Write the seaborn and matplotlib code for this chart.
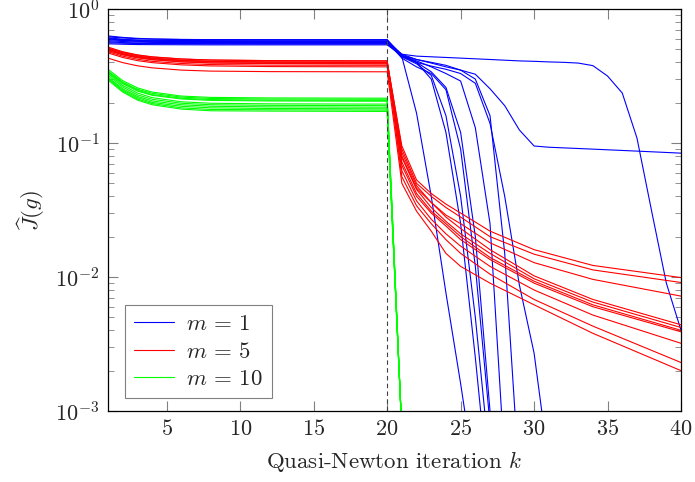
import numpy as np
import pandas as pd
import seaborn as sns
import matplotlib
matplotlib.use("Agg")
from matplotlib import pyplot as plt
from matplotlib.lines import Line2D
from matplotlib.ticker import LogLocator, NullFormatter

# iterations 1..20: setup phase (same knots for every run)
setup_x = [1, 2, 3, 4, 6, 8, 12, 20]

blue_setup = [
    [0.600, 0.592, 0.587, 0.584, 0.582, 0.581, 0.580, 0.580],
    [0.620, 0.608, 0.600, 0.596, 0.592, 0.591, 0.590, 0.590],
    [0.580, 0.572, 0.567, 0.564, 0.562, 0.561, 0.560, 0.560],
    [0.610, 0.594, 0.584, 0.578, 0.573, 0.571, 0.570, 0.570],
    [0.560, 0.556, 0.553, 0.552, 0.551, 0.550, 0.550, 0.550],
    [0.590, 0.582, 0.577, 0.574, 0.572, 0.571, 0.570, 0.570],
    [0.630, 0.614, 0.604, 0.598, 0.593, 0.591, 0.590, 0.590],
    [0.550, 0.546, 0.543, 0.542, 0.541, 0.540, 0.540, 0.540],
    [0.570, 0.562, 0.557, 0.554, 0.552, 0.551, 0.550, 0.550],
    [0.600, 0.584, 0.574, 0.568, 0.563, 0.561, 0.560, 0.560],
]
# blue runs after iteration 20, one value per iteration starting at 21
blue_tail = [
    [0.46, 0.445, 0.44, 0.435, 0.43, 0.425, 0.42, 0.415, 0.41, 0.407, 0.403,
     0.40, 0.395, 0.378, 0.316, 0.236, 0.109, 0.031, 0.009, 0.004],
    [0.45, 0.42, 0.395, 0.37, 0.35, 0.326, 0.254, 0.19, 0.125, 0.095, 0.093,
     0.092, 0.091, 0.090, 0.089, 0.088, 0.087, 0.086, 0.085, 0.084],
    [0.44, 0.167, 0.040, 0.0076, 0.0016, 0.0003],
    [0.45, 0.40, 0.30, 0.12, 0.025, 0.0025, 0.0002],
    [0.44, 0.39, 0.32, 0.16, 0.04, 0.005, 0.0004],
    [0.43, 0.37, 0.33, 0.25, 0.09, 0.012, 0.0008],
    [0.44, 0.40, 0.375, 0.355, 0.33, 0.279, 0.140, 0.040, 0.0087, 0.0027, 0.0004],
    [0.45, 0.41, 0.37, 0.33, 0.29, 0.13, 0.025, 0.0004],
    [0.46, 0.42, 0.40, 0.38, 0.35, 0.30, 0.16, 0.015, 0.0003],
    [0.45, 0.40, 0.34, 0.26, 0.12, 0.02, 0.001, 0.0001],
]

red_setup = [
    [0.50, 0.465, 0.442, 0.428, 0.413, 0.406, 0.402, 0.400],
    [0.52, 0.480, 0.455, 0.440, 0.424, 0.416, 0.412, 0.410],
    [0.48, 0.445, 0.422, 0.407, 0.392, 0.385, 0.381, 0.380],
    [0.51, 0.472, 0.447, 0.431, 0.414, 0.406, 0.402, 0.400],
    [0.49, 0.458, 0.438, 0.425, 0.412, 0.405, 0.401, 0.400],
    [0.50, 0.461, 0.436, 0.420, 0.404, 0.396, 0.392, 0.390],
    [0.51, 0.475, 0.452, 0.438, 0.423, 0.416, 0.412, 0.410],
    [0.47, 0.435, 0.412, 0.398, 0.383, 0.376, 0.372, 0.370],
    [0.49, 0.455, 0.432, 0.418, 0.403, 0.396, 0.392, 0.390],
    [0.43, 0.398, 0.377, 0.364, 0.350, 0.344, 0.341, 0.340],
]
red_tail_x = [21, 22, 23, 24, 25, 27, 30, 34, 40]
red_tail = [
    [0.095, 0.053, 0.042, 0.035, 0.030, 0.022, 0.0160, 0.0122, 0.0099],
    [0.090, 0.050, 0.040, 0.033, 0.028, 0.020, 0.0148, 0.0113, 0.0091],
    [0.080, 0.046, 0.036, 0.029, 0.025, 0.018, 0.0128, 0.0096, 0.0072],
    [0.085, 0.048, 0.036, 0.028, 0.023, 0.016, 0.0102, 0.0068, 0.0044],
    [0.078, 0.045, 0.033, 0.026, 0.021, 0.015, 0.0097, 0.0065, 0.0042],
    [0.072, 0.042, 0.031, 0.025, 0.020, 0.014, 0.0093, 0.0062, 0.0040],
    [0.068, 0.040, 0.030, 0.024, 0.019, 0.0135, 0.0090, 0.0060, 0.0039],
    [0.062, 0.037, 0.027, 0.021, 0.017, 0.0120, 0.0080, 0.0052, 0.0032],
    [0.056, 0.034, 0.025, 0.019, 0.015, 0.0105, 0.0068, 0.0043, 0.0023],
    [0.050, 0.031, 0.022, 0.015, 0.012, 0.0090, 0.0062, 0.0038, 0.0020],
]

green_setup = [
    [0.355, 0.292, 0.258, 0.240, 0.224, 0.219, 0.217, 0.216],
    [0.345, 0.285, 0.252, 0.235, 0.220, 0.215, 0.213, 0.212],
    [0.340, 0.281, 0.248, 0.230, 0.216, 0.211, 0.209, 0.208],
    [0.335, 0.277, 0.244, 0.227, 0.213, 0.208, 0.206, 0.205],
    [0.330, 0.269, 0.236, 0.218, 0.203, 0.198, 0.196, 0.195],
    [0.320, 0.262, 0.229, 0.212, 0.198, 0.193, 0.191, 0.190],
    [0.310, 0.254, 0.223, 0.206, 0.193, 0.188, 0.186, 0.185],
    [0.305, 0.249, 0.218, 0.201, 0.188, 0.183, 0.181, 0.180],
    [0.300, 0.244, 0.213, 0.197, 0.183, 0.178, 0.177, 0.176],
    [0.295, 0.240, 0.209, 0.193, 0.179, 0.174, 0.173, 0.172],
]
green_tail_x = [21]
green_tail = [[0.0007], [0.0007], [0.0007], [0.0007], [0.0007],
              [0.0007], [0.0007], [0.0007], [0.0007], [0.0007]]

labels = [r"$m\,=\,1$", r"$m\,=\,5$", r"$m\,=\,10$"]
colors = ["#0000ff", "#ff0000", "#00ff00"]

rows = []
for lab, setups, tails, tx in [
    (labels[0], blue_setup, blue_tail, None),
    (labels[1], red_setup, red_tail, red_tail_x),
    (labels[2], green_setup, green_tail, green_tail_x),
]:
    for i, (s, t) in enumerate(zip(setups, tails)):
        xs = tx if tx is not None else list(range(21, 21 + len(t)))
        for xv, yv in zip(setup_x + list(xs), s + list(t)):
            rows.append({"k": xv, "J": yv, "m": lab, "run": f"{lab}-{i}"})
df = pd.DataFrame(rows)

sns.set_style("ticks")
plt.rcParams["font.family"] = "serif"
plt.rcParams["font.serif"] = ["cmr10", "DejaVu Serif"]
plt.rcParams["mathtext.fontset"] = "cm"
plt.rcParams["axes.unicode_minus"] = False
plt.rcParams["axes.formatter.use_mathtext"] = True

fig = plt.figure(figsize=(6.95, 4.82), dpi=100)
ax = fig.add_axes([0.1554, 0.1473, 0.8245, 0.834])

sns.lineplot(data=df, x="k", y="J", hue="m", units="run", estimator=None,
             hue_order=labels, palette=dict(zip(labels, colors)),
             linewidth=0.8, legend=False, ax=ax)

ax.axvline(20, color="0.25", linewidth=0.8, dashes=(4, 3), zorder=5)

ax.set_yscale("log")
ax.set_xlim(1, 40)
ax.set_ylim(1e-3, 1)
ax.set_xticks([5, 10, 15, 20, 25, 30, 35, 40])
ax.yaxis.set_minor_locator(LogLocator(base=10, subs=np.arange(2, 10)))
ax.yaxis.set_minor_formatter(NullFormatter())

ax.tick_params(which="both", direction="in", top=True, right=True,
               color="0.5", labelsize=16, pad=6)
ax.tick_params(which="major", length=7, width=0.8)
ax.tick_params(which="minor", length=4, width=0.6)
for sp in ax.spines.values():
    sp.set_linewidth(0.9)
    sp.set_color("black")

ax.set_xlabel("Quasi-Newton iteration $k$", fontsize=16.5, labelpad=7)
ax.set_ylabel(r"$\widehat{J}(g)$", fontsize=16.5, labelpad=6)

handles = [Line2D([], [], color=c, linewidth=0.8) for c in colors]
leg = ax.legend(handles, labels, loc="lower left",
                bbox_to_anchor=(0.03, 0.032), fontsize=16.5,
                fancybox=False, framealpha=1, edgecolor="0.5",
                handlelength=1.75, borderpad=0.4, labelspacing=0.32,
                handletextpad=0.5, borderaxespad=0)
leg.get_frame().set_linewidth(0.8)

fig.savefig("out.png", dpi=100)
